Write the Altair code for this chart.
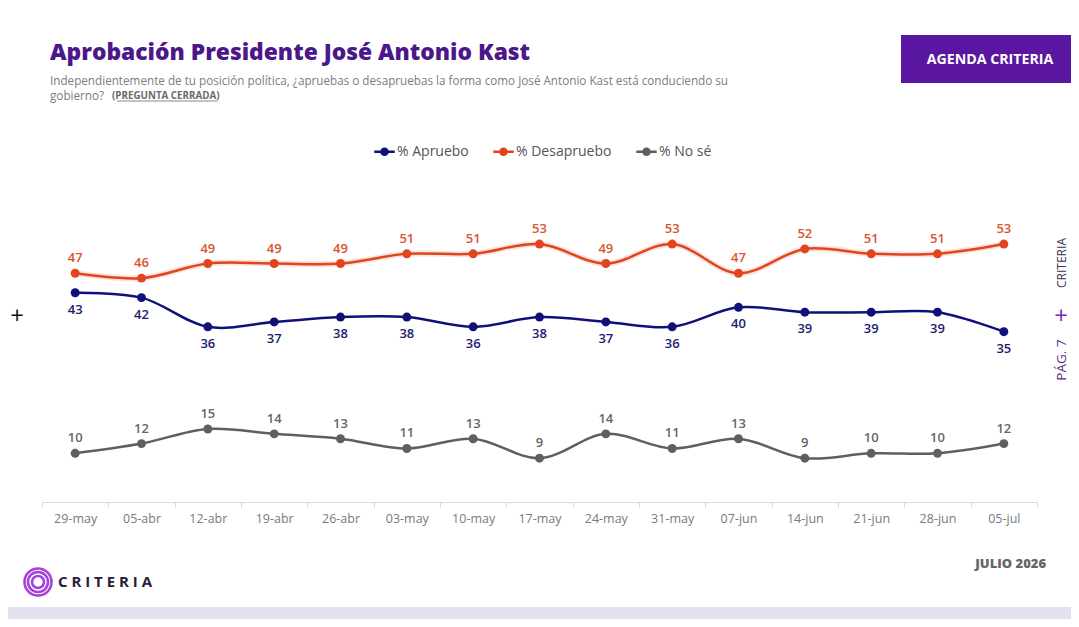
import altair as alt
import pandas as pd

FONT = "Open Sans"

dates = ["29-may", "05-abr", "12-abr", "19-abr", "26-abr", "03-may", "10-may", "17-may",
         "24-may", "31-may", "07-jun", "14-jun", "21-jun", "28-jun", "05-jul"]
apruebo = [43, 42, 36, 37, 38, 38, 36, 38, 37, 36, 40, 39, 39, 39, 35]
desapruebo = [47, 46, 49, 49, 49, 51, 51, 53, 49, 53, 47, 52, 51, 51, 53]
nose = [10, 12, 15, 14, 13, 11, 13, 9, 14, 11, 13, 9, 10, 10, 12]

series_names = ["% Apruebo", "% Desapruebo", "% No sé"]
series_colors = ["#10107a", "#e2441d", "#5f5f5f"]

rows = []
for name, vals in zip(series_names, [apruebo, desapruebo, nose]):
    for d, v in zip(dates, vals):
        rows.append({"fecha": d, "serie": name, "valor": v})
df = pd.DataFrame(rows)

W, H = 995, 292

x_enc = alt.X(
    "fecha:N", sort=dates, title=None, bandPosition=0.5,
    scale=alt.Scale(type="band", paddingInner=0, paddingOuter=0),
    axis=alt.Axis(labelAngle=0, tickBand="extent", tickSize=5, tickColor="#d6d6d6",
                  domainColor="#dcdcdc", domainWidth=1.2, labelColor="#7a7a7a",
                  labelFont=FONT, labelFontSize=12.5, labelPadding=5, grid=False),
)
y_enc = alt.Y("valor:Q", scale=alt.Scale(domain=[0, 60], nice=False), axis=None)

legend_symbol = "M-1,0L1,0M-0.3,0A0.3,0.3,0,1,1,0.3,0A0.3,0.3,0,1,1,-0.3,0Z"


def make_legend():
    return alt.Legend(
        title=None, orient="none", legendX=331, legendY=-70, direction="horizontal",
        symbolType=legend_symbol, symbolSize=420, symbolStrokeWidth=2.5,
        labelFont=FONT, labelFontSize=14, labelColor="#555555", labelOffset=1,
        columnPadding=19,
    )


base = alt.Chart(df)

halo = base.transform_filter(alt.datum.serie == "% Desapruebo").mark_line(
    interpolate="catmull-rom", strokeWidth=6, opacity=0.15
).encode(x=x_enc, y=y_enc, color=alt.value("#e2441d"))

lines = base.mark_line(interpolate="catmull-rom", strokeWidth=2.5).encode(
    x=x_enc, y=y_enc,
    stroke=alt.Stroke("serie:N", scale=alt.Scale(domain=series_names, range=series_colors),
                      legend=make_legend()),
)

points = base.mark_point(filled=True, size=80, opacity=1).encode(
    x=x_enc, y=y_enc,
    fill=alt.Fill("serie:N", scale=alt.Scale(domain=series_names, range=series_colors),
                  legend=make_legend()),
)


def labels(name, dy, color):
    return base.transform_filter(alt.datum.serie == name).mark_text(
        dy=dy, font=FONT, fontSize=13, fontWeight=600, color=color
    ).encode(x=x_enc, y=y_enc, text="valor:Q")


lab_a = labels("% Apruebo", 17, "#1c1c70")
lab_d = labels("% Desapruebo", -15, "#d8552e")
lab_n = labels("% No sé", -15, "#666666")

one = pd.DataFrame({"k": [0]})


def deco_text(text, x, y, **kw):
    return alt.Chart(pd.DataFrame({"t": [text]})).mark_text(font=FONT, **kw).encode(
        x=alt.value(x), y=alt.value(y), text="t:N")


title = deco_text("Aprobación Presidente José Antonio Kast", 8, -150, align="left",
                  baseline="alphabetic", fontSize=22.8, fontWeight=800, color="#4b1789")
sub1 = deco_text("Independientemente de tu posición política, ¿apruebas o desapruebas la forma como "
                 "José Antonio Kast está conduciendo su", 8, -129, align="left", baseline="middle",
                 fontSize=11.7, color="#7d7d7d")
sub2 = deco_text("gobierno?", 8, -114, align="left", baseline="middle", fontSize=11.7,
                 color="#7d7d7d")
sub3 = deco_text("(PREGUNTA CERRADA)", 70, -114, align="left", baseline="middle", fontSize=9.8,
                 fontWeight="bold", color="#6a6a6a")
underline = alt.Chart(one).mark_rule(color="#6a6a6a", strokeWidth=0.8).encode(
    x=alt.value(75), x2=alt.value(175), y=alt.value(-109))

box = alt.Chart(one).mark_rect(color="#5a16a0").encode(
    x=alt.value(859), x2=alt.value(1040), y=alt.value(-175), y2=alt.value(-127))
box_text = deco_text("AGENDA CRITERIA", 948, -150, align="center", baseline="middle",
                     fontSize=14.2, fontWeight="bold", color="#ffffff")

plus_left = deco_text("+", -25, 107, align="center", baseline="middle", fontSize=24,
                      fontWeight="normal", color="#111111")
side1 = deco_text("CRITERIA", 1020, 53, align="center", baseline="middle", angle=270,
                  fontSize=12, color="#3d3050")
plus_right = deco_text("+", 1019, 107, align="center", baseline="middle", fontSize=24,
                       color="#7a2aa8")
side2 = deco_text("PÁG. 7", 1020, 150, align="center", baseline="middle", angle=270,
                  fontSize=13.5, color="#5a2d82")

julio = deco_text("JULIO 2026", 1004, 354, align="right", baseline="middle", fontSize=13,
                  fontWeight=800, color="#666666")

rings = alt.Chart(pd.DataFrame({"s": [729, 400, 144]})).mark_point(
    filled=False, shape="circle", color="#a543d8", strokeWidth=2.6, opacity=1
).encode(x=alt.value(-4), y=alt.value(372), size=alt.Size("s:Q", scale=None, legend=None))
logo_text = deco_text("C R I T E R I A", 16, 372, align="left", baseline="middle", fontSize=15,
                      fontWeight="bold", color="#2b1b3b")

band = alt.Chart(one).mark_rect(color="#e2e2ee").encode(
    x=alt.value(-40), x2=alt.value(1040), y=alt.value(397), y2=alt.value(420))

chart = alt.layer(
    band, halo, lines, points, lab_a, lab_d, lab_n,
    title, sub1, sub2, sub3, underline, box, box_text,
    plus_left, side1, plus_right, side2, julio, rings, logo_text,
).properties(
    width=W, height=H,
    autosize=alt.AutoSizeParams(type="none"),
    padding={"left": 34, "top": 202, "right": 34, "bottom": 117},
    background="#ffffff",
).configure_view(stroke=None)

chart.save("out.html", embed_options={"renderer": "svg", "actions": False})
